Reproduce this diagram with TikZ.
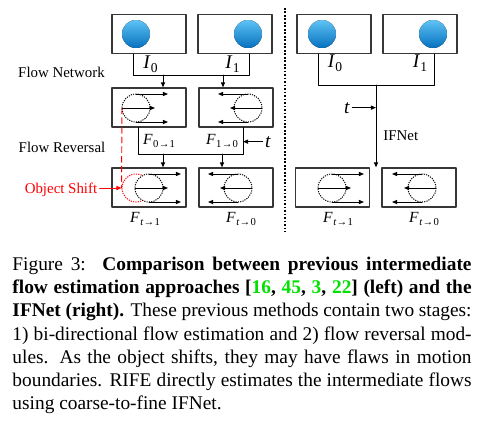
\documentclass[tikz,border=0pt]{standalone}
\usepackage{fontspec}
\setmainfont{Liberation Serif}
\usepackage{pgf,tikz}
\usetikzlibrary{arrows,arrows.meta}
\usepackage{color}

\definecolor{ballTop}{RGB}{95,195,245}
\definecolor{ballBot}{RGB}{5,112,190}
\definecolor{frameGray}{RGB}{55,55,55}
\definecolor{citeGreen}{RGB}{0,225,0}

\newcommand{\imgname}[2]{\textit{#1}\kern0.2pt\raisebox{-0.4ex}{\fontsize{7}{8}\selectfont #2}}
\newcommand{\flowname}[2]{\textit{F}\kern0.3pt\raisebox{-0.45ex}{\fontsize{5.5}{6}\selectfont #1\kern0.1pt→\kern0.1pt#2}}
\newcommand{\citeno}[1]{\textcolor{citeGreen}{#1}}

\tikzset{
  frame/.style={draw=frameGray, line width=0.75pt, minimum width=38.2pt, minimum height=20pt, inner sep=0pt},
  ball/.style={top color=ballTop, bottom color=ballBot},
  ring/.style={line cap=butt, line width=0.5pt, dash pattern=on 0.6pt off 0.6pt},
  stage/.style={font=\fontsize{7.7}{9}\selectfont, inner sep=1pt},
  sym/.style={font=\fontsize{10}{12}\selectfont, inner sep=1pt},
  fname/.style={font=\fontsize{8}{9}\selectfont, anchor=base},
  sep/.style={line cap=butt, line width=0.9pt, dash pattern=on 0.9pt off 0.9pt},
  caption/.style={anchor=north west, inner sep=0pt, text width=237.13pt, align=justify, font=\fontsize{10}{12}\selectfont},
  pics/fwdflow/.style={code={
    \draw [ring, fill=white] (0,0) circle (14);
    \coordinate (-left) at (-14,0);
    \draw [->] (0,-14) -- (32,-14);
    \draw [->] (-14,0) -- (19,0);
    \draw [->] (0,14) -- (32,14);
  }},
  pics/bwdflow/.style={code={
    \draw [ring] (0,0) circle (14);
    \draw [->] (0,-14) -- (-30,-14);
    \draw [->] (14,0) -- (-18,0);
    \draw [->] (0,14) -- (-30,14);
  }}
}

\begin{document}
\begin{tikzpicture}[line cap=round,line join=round,>={Triangle[length=2.6pt,width=2.1pt]},x=0.5165pt,y=-0.5165pt,line width=0.5pt]
\useasboundingbox (0,0) rectangle (502,434);
% previous methods (left)
\node [frame] (imgA) at (149,34) {};
\node [frame] (imgB) at (235,34) {};
\fill [ball] (136,34) circle (14);
\fill [ball] (248,34) circle (14);
\node [sym, anchor=base] (nameA) at (150.5,69) {\imgname{I}{0}};
\node [sym, anchor=base] (nameB) at (232.5,69) {\imgname{I}{1}};
\coordinate (netL) at (133,75);
\coordinate (netR) at (249,75);
\draw (imgA.south -| netL) |- (netR) -- (imgB.south -| netR);
\node [stage] (netLabel) at (61.5,72) {Flow Network};
\node [frame] (flowA) at (149,107.5) {};
\node [frame] (flowB) at (236,107.5) {};
\coordinate (inA) at (163,75);
\coordinate (inB) at (223,75);
\draw [->] (inA) -- (inA |- flowA.north);
\draw [->] (inB) -- (inB |- flowB.north);
\pic (fa) at (136,108) {fwdflow};
\pic (fb) at (248,108) {bwdflow};
\node [fname] (nameAB) at (159,144.5) {\flowname{0}{1}};
\node [fname] (nameBA) at (222,144.5) {\flowname{1}{0}};
\coordinate (revL) at (138,154);
\coordinate (revR) at (243,154);
\draw (flowA.south -| revL) |- (revR) -- (flowB.south -| revR);
\node [sym, anchor=base] (tLeft) at (268,147) {\textit{t}};
\draw [->] (tLeft.west) -- (tLeft.west -| revR);
\node [stage] (revLabel) at (62,147) {Flow Reversal};
\node [frame] (outA) at (149,187.5) {};
\node [frame] (outB) at (236,187.5) {};
\coordinate (rvA) at (163,154);
\coordinate (rvB) at (222,154);
\draw [->] (rvA) -- (rvA |- outA.north);
\draw [->] (rvB) -- (rvB |- outB.north);
\node [circle, ring, draw=red, minimum size=14.46pt, inner sep=0pt] (ghost) at (136,188) {};
\pic (fc) at (149,188) {fwdflow};
\pic (fd) at (238,188) {bwdflow};
\draw [red, densely dashed] (fa-left) -- (ghost.west);
\node [stage, text=red, anchor=base] (shiftLabel) at (61,193) {Object Shift};
\draw [->, red] (shiftLabel.east |- ghost.west) -- (ghost.west);
\node [fname] (nameAt) at (145,222) {\flowname{\textit{t}}{1}};
\node [fname] (nameBt) at (241,222) {\flowname{\textit{t}}{0}};
\draw [sep] (285,8) -- (285,232);
% IFNet (right)
\node [frame] (imgC) at (334,34) {};
\node [frame] (imgD) at (420,34) {};
\fill [ball] (322,34) circle (14);
\fill [ball] (433,34) circle (14);
\node [sym, anchor=base] (nameC) at (335,68) {\imgname{I}{0}};
\node [sym, anchor=base] (nameD) at (420,68) {\imgname{I}{1}};
\coordinate (ifL) at (318,85);
\coordinate (ifR) at (434,85);
\coordinate (ifM) at (376,85);
\draw (imgC.south -| ifL) |- (ifR) -- (imgD.south -| ifR);
\node [frame] (outC) at (332.5,187.5) {};
\node [frame] (outD) at (419,187.5) {};
\draw [->] (ifM) -- (ifM |- outC.north);
\node [sym, anchor=base] (tRight) at (347,113) {\textit{t}};
\draw [->] (tRight.east) -- (tRight.east -| ifM);
\node [stage, anchor=base west] (ifnet) at (381,140) {IFNet};
\pic (fe) at (332,188) {fwdflow};
\pic (ff) at (422,188) {bwdflow};
\node [fname] (nameCt) at (338,222) {\flowname{\textit{t}}{1}};
\node [fname] (nameDt) at (424,222) {\flowname{\textit{t}}{0}};
% caption
\node [caption] (cap) at (12,256.5) {Figure~3:\hskip 0.5em plus 0.3em \textbf{Comparison between previous intermediate\linebreak
flow estimation approaches [\citeno{16}, \citeno{45}, \citeno{3}, \citeno{22}] (left) and the\linebreak
IFNet (right).} These previous methods contain two stages:\linebreak
1) bi-directional flow estimation and 2) flow reversal mod-\linebreak
ules. As the object shifts, they may have flaws in motion\linebreak
boundaries. RIFE directly estimates the intermediate flows\linebreak
using coarse-to-fine IFNet.};
\end{tikzpicture}
\end{document}
